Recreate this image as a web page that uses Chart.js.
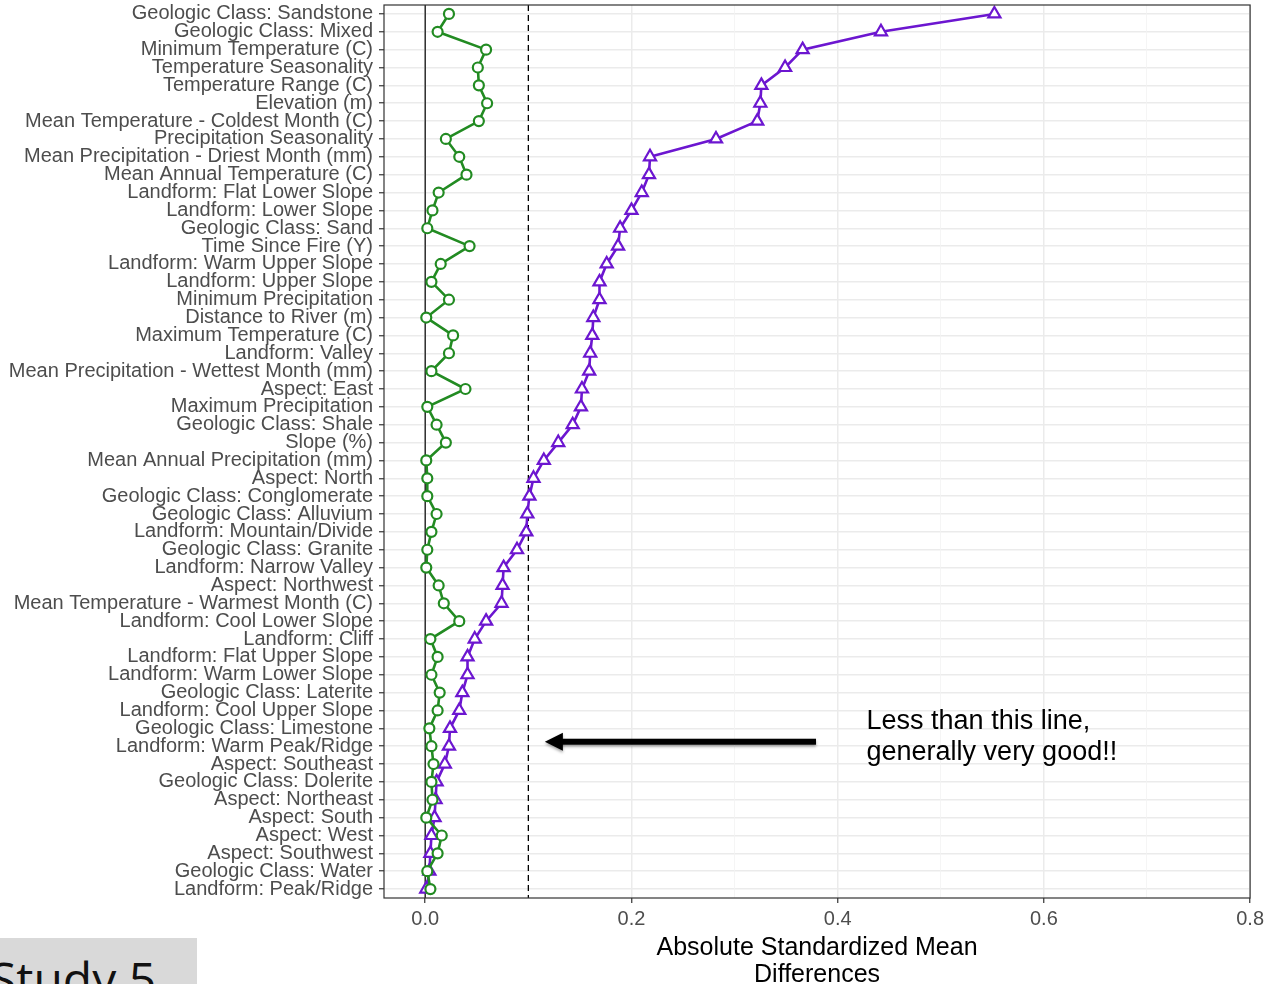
<!DOCTYPE html>
<html>
<head>
<meta charset="utf-8">
<script src="https://cdn.jsdelivr.net/npm/chart.js@4/dist/chart.umd.min.js"></script>
<style>
  body { margin: 0; background: #fff; }
  #wrap { position: relative; width: 1268px; height: 984px; overflow: hidden; }
  #study {
    position: absolute; left: 0; top: 938px; width: 197px; height: 46px;
    background: #d9d9d9; overflow: hidden;
  }
  #study span {
    position: absolute; left: -10px; top: 17px;
    font: 48px "Open Sans", sans-serif; color: #111; white-space: nowrap; line-height: 1;
  }
</style>
</head>
<body>
<div id="wrap">
  <canvas id="chart" width="1268" height="984"></canvas>
  <div id="study"><span>Study 5</span></div>
</div>
<script>
// covariates, top to bottom
const covariates = [
  'Geologic Class: Sandstone', 'Geologic Class: Mixed', 'Minimum Temperature (C)',
  'Temperature Seasonality', 'Temperature Range (C)', 'Elevation (m)',
  'Mean Temperature - Coldest Month (C)', 'Precipitation Seasonality',
  'Mean Precipitation - Driest Month (mm)', 'Mean Annual Temperature (C)',
  'Landform: Flat Lower Slope', 'Landform: Lower Slope', 'Geologic Class: Sand',
  'Time Since Fire (Y)', 'Landform: Warm Upper Slope', 'Landform: Upper Slope',
  'Minimum Precipitation', 'Distance to River (m)', 'Maximum Temperature (C)',
  'Landform: Valley', 'Mean Precipitation - Wettest Month (mm)', 'Aspect: East',
  'Maximum Precipitation', 'Geologic Class: Shale', 'Slope (%)',
  'Mean Annual Precipitation (mm)', 'Aspect: North', 'Geologic Class: Conglomerate',
  'Geologic Class: Alluvium', 'Landform: Mountain/Divide', 'Geologic Class: Granite',
  'Landform: Narrow Valley', 'Aspect: Northwest', 'Mean Temperature - Warmest Month (C)',
  'Landform: Cool Lower Slope', 'Landform: Cliff', 'Landform: Flat Upper Slope',
  'Landform: Warm Lower Slope', 'Geologic Class: Laterite', 'Landform: Cool Upper Slope',
  'Geologic Class: Limestone', 'Landform: Warm Peak/Ridge', 'Aspect: Southeast',
  'Geologic Class: Dolerite', 'Aspect: Northeast', 'Aspect: South', 'Aspect: West',
  'Aspect: Southwest', 'Geologic Class: Water', 'Landform: Peak/Ridge'
];

// adjusted (green circles)
const adjusted = [
  0.023, 0.012, 0.059, 0.051, 0.052, 0.060, 0.052, 0.020, 0.033, 0.040,
  0.013, 0.007, 0.002, 0.043, 0.015, 0.006, 0.023, 0.001, 0.027, 0.023,
  0.006, 0.039, 0.002, 0.011, 0.020, 0.001, 0.002, 0.002, 0.011, 0.006,
  0.002, 0.001, 0.013, 0.018, 0.033, 0.005, 0.012, 0.006, 0.014, 0.012,
  0.004, 0.006, 0.008, 0.006, 0.007, 0.001, 0.016, 0.012, 0.002, 0.005
];

// unadjusted (purple triangles)
const unadjusted = [
  0.552, 0.442, 0.366, 0.349, 0.326, 0.325, 0.322, 0.282, 0.218, 0.217,
  0.210, 0.200, 0.189, 0.187, 0.176, 0.169, 0.169, 0.163, 0.162, 0.160,
  0.159, 0.152, 0.151, 0.143, 0.129, 0.115, 0.105, 0.101, 0.099, 0.098,
  0.089, 0.076, 0.075, 0.074, 0.059, 0.048, 0.041, 0.041, 0.036, 0.033,
  0.024, 0.023, 0.019, 0.011, 0.010, 0.009, 0.006, 0.005, 0.004, 0.001
];

const xMin = -0.04;
const xMax = 0.8;
const zeroLine = 0;
const threshold = 0.1;

// annotation, in data units (x value, row index)
const noteLines = ['Less than this line,', 'generally very good!!'];
const noteX = 0.428;
const noteRows = [39.6, 41.35];
const arrowFrom = 0.379;
const arrowTo = 0.116;
const arrowRow = 40.75;

const font = '"Liberation Sans", Arial, sans-serif';

const refLines = {
  id: 'refLines',
  beforeDatasetsDraw(chart) {
    const { ctx, chartArea: a, scales: { x } } = chart;
    ctx.save();
    let px = x.getPixelForValue(zeroLine);
    ctx.strokeStyle = '#333';
    ctx.lineWidth = 1.5;
    ctx.beginPath(); ctx.moveTo(px, a.top); ctx.lineTo(px, a.bottom); ctx.stroke();
    px = x.getPixelForValue(threshold);
    ctx.strokeStyle = '#000';
    ctx.lineWidth = 1.3;
    ctx.setLineDash([6, 4]);
    ctx.beginPath(); ctx.moveTo(px, a.top); ctx.lineTo(px, a.bottom); ctx.stroke();
    ctx.restore();
  },
  afterDraw(chart) {
    const { ctx, chartArea: a, scales: { x, y } } = chart;
    ctx.save();
    // panel border
    ctx.strokeStyle = '#333';
    ctx.lineWidth = 1.2;
    ctx.strokeRect(a.left, a.top, a.right - a.left, a.bottom - a.top);

    // arrow
    const ay = y.getPixelForValue(arrowRow);
    const x0 = x.getPixelForValue(arrowFrom);
    const x1 = x.getPixelForValue(arrowTo);
    ctx.shadowColor = 'rgba(0,0,0,0.35)';
    ctx.shadowBlur = 3;
    ctx.shadowOffsetY = 2;
    ctx.fillStyle = '#000';
    ctx.fillRect(x1 + 14, ay - 3, x0 - x1 - 14, 6);
    ctx.beginPath();
    ctx.moveTo(x1, ay);
    ctx.lineTo(x1 + 18, ay - 9);
    ctx.lineTo(x1 + 18, ay + 9);
    ctx.closePath();
    ctx.fill();
    ctx.shadowColor = 'transparent';

    // note
    ctx.font = '27px ' + font;
    ctx.fillStyle = '#000';
    ctx.textAlign = 'left';
    ctx.textBaseline = 'middle';
    noteLines.forEach((t, i) => {
      ctx.fillText(t, x.getPixelForValue(noteX), y.getPixelForValue(noteRows[i]));
    });
    ctx.restore();
  }
};

const ctx = document.getElementById('chart').getContext('2d');
new Chart(ctx, {
  type: 'line',
  data: {
    labels: covariates,
    datasets: [
      {
        label: 'Adjusted',
        data: adjusted,
        borderColor: '#228b22',
        backgroundColor: '#fff',
        pointBackgroundColor: '#fff',
        borderWidth: 2.6,
        pointStyle: 'circle',
        pointRadius: 5,
        pointBorderWidth: 2.2,
        tension: 0
      },
      {
        label: 'Unadjusted',
        data: unadjusted,
        borderColor: '#6c16d0',
        backgroundColor: '#fff',
        pointBackgroundColor: '#fff',
        borderWidth: 2.6,
        pointStyle: 'triangle',
        pointRadius: 7,
        pointBorderWidth: 2.2,
        tension: 0
      }
    ]
  },
  options: {
    responsive: false,
    animation: false,
    indexAxis: 'y',
    layout: { autoPadding: false, padding: { top: 5, right: 15, left: 0, bottom: 0 } },
    plugins: {
      legend: { display: false },
      tooltip: { enabled: false }
    },
    scales: {
      y: {
        type: 'category',
        offset: true,
        afterFit: s => { s.width = 384; s.paddingTop = 0; s.paddingBottom = 0; },
        border: { display: false },
        grid: {
          offset: false,
          color: '#ebebeb',
          lineWidth: 1.5,
          tickLength: 5,
          tickColor: '#333',
          tickWidth: 1.2
        },
        ticks: {
          color: '#4d4d4d',
          font: { family: font, size: 20 },
          padding: 6,
          autoSkip: false
        }
      },
      x: {
        type: 'linear',
        min: xMin,
        max: xMax,
        afterFit: s => { s.height = 86; },
        border: { display: false },
        grid: {
          color: c => (Math.round(c.tick.value * 10) % 2 === 0 ? '#ebebeb' : '#f3f3f3'),
          lineWidth: c => (Math.round(c.tick.value * 10) % 2 === 0 ? 1.5 : 0.8),
          tickLength: 5,
          tickColor: c => (Math.round(c.tick.value * 10) % 2 === 0 ? '#333' : 'rgba(0,0,0,0)'),
          tickWidth: 1.2
        },
        ticks: {
          stepSize: 0.1,
          includeBounds: false,
          autoSkip: false,
          maxRotation: 0,
          color: '#4d4d4d',
          font: { family: font, size: 20 },
          padding: 4,
          callback: v => (Math.round(v * 10) % 2 === 0 ? v.toFixed(1) : '')
        },
        title: {
          display: true,
          text: ['Absolute Standardized Mean', 'Differences'],
          color: '#000',
          font: { family: font, size: 25, lineHeight: 1.1 },
          padding: { top: 0, bottom: -5 }
        }
      }
    }
  },
  plugins: [refLines]
});
</script>
</body>
</html>
